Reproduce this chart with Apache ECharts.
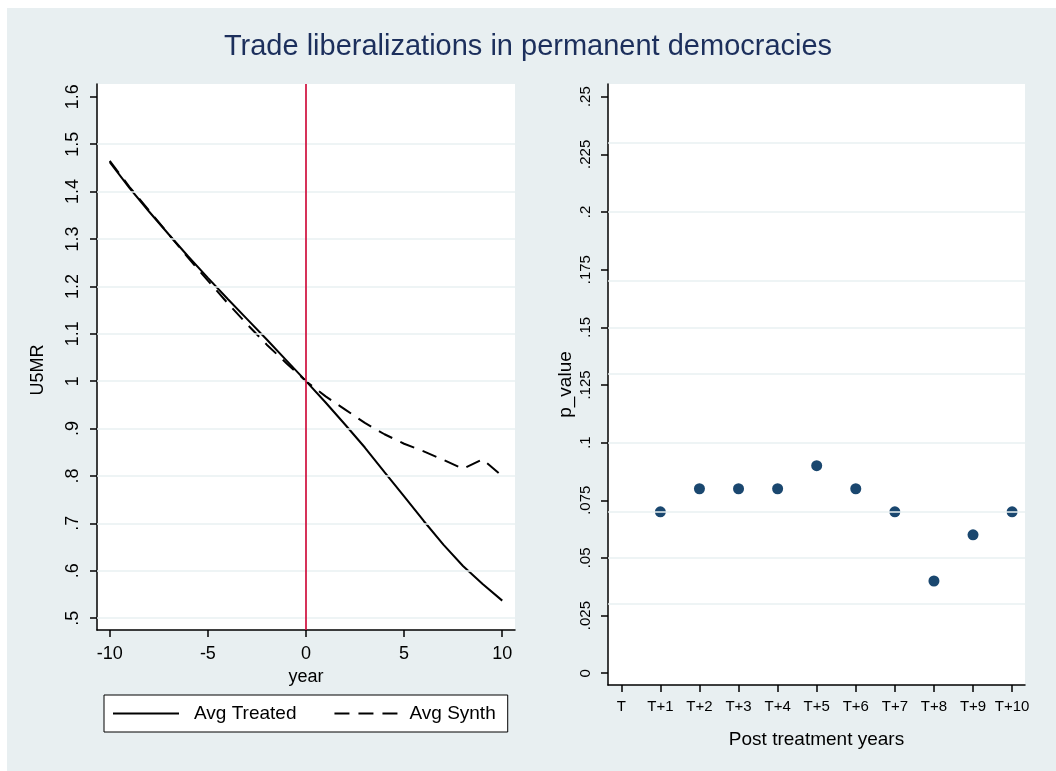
<!DOCTYPE html>
<html>
<head>
<meta charset="utf-8">
<script src="https://cdn.jsdelivr.net/npm/echarts@6/dist/echarts.min.js"></script>
<style>
html,body{margin:0;padding:0;background:#fff;}
#chart{width:1056px;height:771px;}
</style>
</head>
<body>
<div id="chart"></div>
<script>
// ---- data ----
const chartTitle = 'Trade liberalizations in permanent democracies';
const years = [-10,-9,-8,-7,-6,-5,-4,-3,-2,-1,0,1,2,3,4,5,6,7,8,9,10];
const avgTreated = [1.462,1.408,1.358,1.31,1.263,1.218,1.174,1.131,1.088,1.044,1.0,0.955,0.908,0.86,0.808,0.757,0.705,0.655,0.61,0.572,0.537];
const avgSynth   = [1.465,1.41,1.36,1.31,1.26,1.212,1.165,1.12,1.077,1.038,1.0,0.968,0.94,0.912,0.888,0.868,0.852,0.834,0.815,0.835,0.80];
const treatmentYear = 0;
const leftXTicks = [-10,-5,0,5,10];
const leftYTicks = [0.5,0.6,0.7,0.8,0.9,1.0,1.1,1.2,1.3,1.4,1.5,1.6];
const leftGrid = [0.5,0.6,0.7,0.8,0.9,1.0,1.1,1.2,1.3,1.4,1.5];
const postLabels = ['T','T+1','T+2','T+3','T+4','T+5','T+6','T+7','T+8','T+9','T+10'];
const pValues = [null,0.07,0.08,0.08,0.08,0.09,0.08,0.07,0.04,0.06,0.07];
const rightYTicks = [0,0.025,0.05,0.075,0.1,0.125,0.15,0.175,0.2,0.225,0.25];
const rightGrid = [0.025,0.05,0.075,0.1,0.125,0.15,0.175,0.2,0.225];
const seriesNames = ['Avg Treated','Avg Synth'];
const leftXTitle = 'year', leftYTitle = 'U5MR', rightXTitle = 'Post treatment years', rightYTitle = 'p_value';

// ---- build ----
const FONT = 'Liberation Sans, Arial, sans-serif';
const BG = '#e8eff1';
const GRIDC = '#e9f0f2';
function stataNum(v){
  let s = String(+(+v).toFixed(4));
  if (s.startsWith('0.')) s = s.slice(1);
  else if (s.startsWith('-0.')) s = '-' + s.slice(2);
  return s;
}
const axisLineStyle = {color:'#000', width:1.5};
const chart = echarts.init(document.getElementById('chart'), null, {renderer:'canvas'});
const treatedData = years.map((y,i)=>[y, avgTreated[i]]);
const synthData = years.map((y,i)=>[y, avgSynth[i]]);
const scatterData = pValues.map((v,i)=> v==null ? null : [i, v]).filter(d=>d);
const gridLineItem = v => ({yAxis: v, lineStyle:{color:GRIDC, width:1.5, type:'solid'}});

chart.setOption({
  animation:false,
  backgroundColor:'#fff',
  textStyle:{fontFamily:FONT},
  graphic:[{type:'rect', left:7, top:8, z:-100, shape:{width:1049, height:763}, style:{fill:BG}, silent:true}],
  title:{text:chartTitle, left:'center', top:27, textStyle:{fontFamily:FONT, fontSize:29, fontWeight:'normal', color:'#1c2f5c'}},
  legend:{
    data:[{name:seriesNames[0], textStyle:{padding:[0,0,0,10]}}, {name:seriesNames[1], textStyle:{padding:[0,0,0,4]}}],
    left:104, top:695, orient:'horizontal',
    padding:[9,12,9,8], itemGap:37, itemWidth:66, itemHeight:14,
    backgroundColor:'#fff', borderColor:'#000', borderWidth:1, borderRadius:0,
    itemStyle:{opacity:0, borderWidth:0},
    textStyle:{fontFamily:FONT, fontSize:19, color:'#000'}
  },
  grid:[
    {left:97, top:84, width:418, height:546, show:true, backgroundColor:'#fff', borderWidth:0, containLabel:false},
    {left:608, top:84, width:417, height:601, show:true, backgroundColor:'#fff', borderWidth:0, containLabel:false}
  ],
  xAxis:[
    {type:'value', gridIndex:0, min:-10.65, max:10.65,
     axisLine:{show:true, onZero:false, lineStyle:axisLineStyle},
     axisTick:{show:true, length:7, lineStyle:axisLineStyle, customValues:leftXTicks},
     axisLabel:{customValues:leftXTicks, margin:15, fontSize:18, color:'#000', fontFamily:FONT, formatter:stataNum},
     splitLine:{show:false},
     name:leftXTitle, nameLocation:'middle', nameGap:32, nameTextStyle:{fontSize:18, color:'#000', fontFamily:FONT}},
    {type:'value', gridIndex:1, min:-0.34, max:10.33,
     axisLine:{show:true, onZero:false, lineStyle:axisLineStyle},
     axisTick:{show:true, length:7, lineStyle:axisLineStyle, customValues:postLabels.map((_,i)=>i)},
     axisLabel:{customValues:postLabels.map((_,i)=>i), margin:14, fontSize:15, color:'#000', fontFamily:FONT, formatter:v=>postLabels[Math.round(v)]},
     splitLine:{show:false},
     name:rightXTitle, nameLocation:'middle', nameGap:45, nameTextStyle:{fontSize:19, color:'#000', fontFamily:FONT}}
  ],
  yAxis:[
    {type:'value', gridIndex:0, min:0.475, max:1.627,
     axisLine:{show:true, onZero:false, lineStyle:axisLineStyle},
     axisTick:{show:true, length:7, lineStyle:axisLineStyle, customValues:leftYTicks},
     axisLabel:{customValues:leftYTicks, rotate:90, margin:15, fontSize:18, color:'#000', fontFamily:FONT, formatter:stataNum},
     splitLine:{show:false},
     name:leftYTitle, nameLocation:'middle', nameGap:50, nameTextStyle:{fontSize:18, color:'#000', fontFamily:FONT, padding:[0,26,0,0]}},
    {type:'value', gridIndex:1, min:-0.0051, max:0.2555,
     axisLine:{show:true, onZero:false, lineStyle:axisLineStyle},
     axisTick:{show:true, length:7, lineStyle:axisLineStyle, customValues:rightYTicks},
     axisLabel:{customValues:rightYTicks, rotate:90, margin:15, fontSize:15, color:'#000', fontFamily:FONT, formatter:stataNum},
     splitLine:{show:false},
     name:rightYTitle, nameLocation:'middle', nameGap:33, nameTextStyle:{fontSize:19, color:'#000', fontFamily:FONT}}
  ],
  series:[
    {type:'line', xAxisIndex:0, yAxisIndex:0, data:[], z:1, silent:true,
     markLine:{silent:true, symbol:['none','none'], label:{show:false}, animation:false,
       data: leftGrid.map(gridLineItem).concat([{xAxis:treatmentYear, lineStyle:{color:'#cf0f3c', width:1.7, type:'solid'}}])}},
    {type:'line', xAxisIndex:1, yAxisIndex:1, data:[], z:1, silent:true,
     markLine:{silent:true, symbol:['none','none'], label:{show:false}, animation:false,
       data: rightGrid.map(gridLineItem)}},
    {name:seriesNames[0], type:'line', xAxisIndex:0, yAxisIndex:0, data:treatedData, z:3,
     symbol:'none', smooth:false, lineStyle:{color:'#000', width:2, type:'solid'}, itemStyle:{color:'#000'}},
    {name:seriesNames[1], type:'line', xAxisIndex:0, yAxisIndex:0, data:synthData, z:3,
     symbol:'none', smooth:false, lineStyle:{color:'#000', width:2, type:[15,9]}, itemStyle:{color:'#000'}},
    {name:'p_value', type:'scatter', xAxisIndex:1, yAxisIndex:1, data:scatterData, z:3,
     symbol:'circle', symbolSize:11, itemStyle:{color:'#1a476f', opacity:1}}
  ]
});
</script>
</body>
</html>
